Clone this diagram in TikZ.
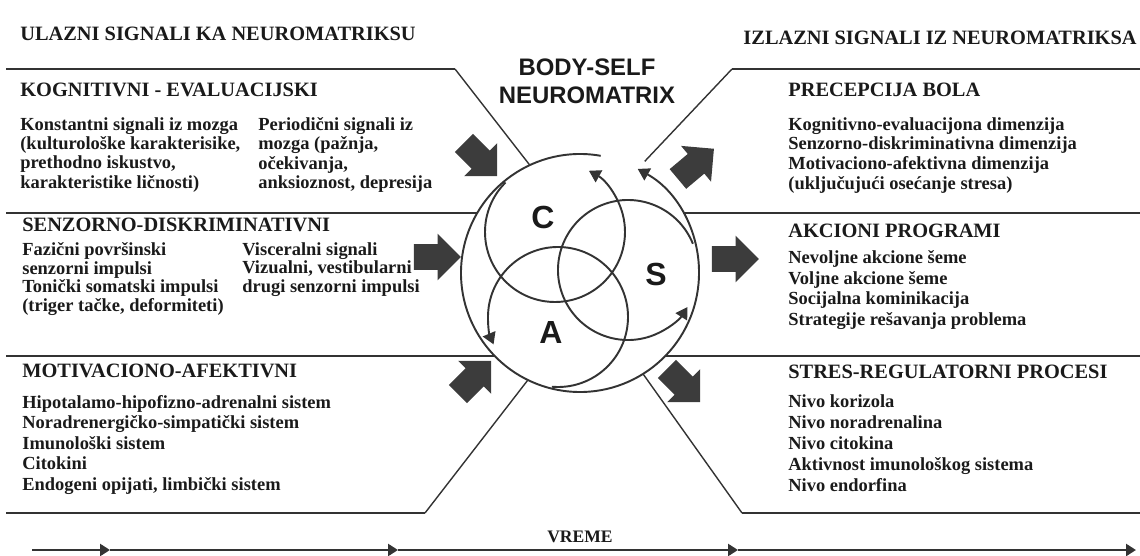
\documentclass[tikz,border=0pt]{standalone}
\usepackage{fontspec}
\setmainfont{Liberation Serif}
\newfontfamily\titlefont{Liberation Sans}
\usepackage{tikz}
\usetikzlibrary{arrows.meta,shapes.arrows,calc}
\definecolor{inkblack}{HTML}{1A1A1A}
\definecolor{linegray}{HTML}{333333}
\definecolor{arrowgray}{HTML}{3C3C3C}

\begin{document}
\begin{tikzpicture}[x=0.02cm, y=0.02cm,
    hd/.style={anchor=west, inner sep=0pt, text=inkblack,
               font=\bfseries\fontsize{11.6}{13}\selectfont},
    txt/.style={anchor=north west, inner sep=0pt, align=left, text=inkblack,
                font=\bfseries\fontsize{10.5}{#1}\selectfont},
    txt/.default=11.2,
    divider/.style={draw=linegray, line width=1.1pt},
    slant/.style={draw=linegray, line width=0.8pt},
    ring/.style={draw=linegray, line width=1.1pt, -{Triangle[length=2.3mm, width=2.7mm]}},
    blockarrow/.style={single arrow, fill=arrowgray, draw=none, inner xsep=0pt,
                       inner ysep=0.25cm, minimum height=0.94cm, single arrow head extend=0.21cm},
    letter/.style={text=inkblack, font=\titlefont\bfseries\fontsize{18.2}{20}\selectfont},
    timeline/.style={draw=linegray, line width=1.7pt, -{Triangle[length=2mm, width=2.4mm]}}
  ]
  \useasboundingbox (0,0) rectangle (1140,555);

  \node[circle, minimum size=4.76cm, inner sep=0pt] (nm) at (580,282) {};
  \coordinate (lft) at (6,0);
  \coordinate (rgt) at (1140,0);

  % dividers
  \draw[divider] (6,486) -- (455,486);
  \draw[slant] (455,486) -- (nm.115);
  \draw[divider] (nm.150 -| lft) -- (nm.150);
  \draw[divider] (nm.224 -| lft) -- (nm.224);
  \draw[divider] (6,42) -- (425,42);
  \draw[slant] (425,42) -- (nm.244);
  \draw[divider] (1140,486) -- (732,486);
  \draw[slant, shorten >=0.2cm] (732,486) -- (nm.61);
  \draw[divider] (nm.30) -- (nm.30 -| rgt);
  \draw[divider] (nm.316) -- (nm.316 -| rgt);
  \draw[slant] (nm.302) -- (742,42);
  \draw[divider] (742,42) -- (1140,42);

  % neuromatrix
  \coordinate (cC) at (555,323);
  \coordinate (cS) at (628,285);
  \coordinate (cA) at (558,238);
  \draw[ring] ([shift={(80:119)}]nm.center) arc[start angle=80, end angle=421, radius=119];
  \draw[ring] ([shift={(135:70)}]cC) arc[start angle=135, end angle=421, radius=70];
  \draw[ring] ([shift={(22:70)}]cS) arc[start angle=22, end angle=328, radius=70];
  \draw[ring] ([shift={(265:70)}]cA) arc[start angle=265, end angle=563, radius=70];
  \node[letter] (lC) at (543,338) {C};
  \node[letter] (lS) at (656,281) {S};
  \node[letter] (lA) at (551,222) {A};
  \node[align=center, text=inkblack, font=\titlefont\bfseries\fontsize{13.6}{16}\selectfont] (bsn) at (587,474) {BODY-SELF\\NEUROMATRIX};

  % block arrows
  \node[blockarrow, rotate=-45] (inK) at (476,400) {};
  \node[blockarrow] (inS) at (431,298) {};
  \node[blockarrow, rotate=45] (inM) at (470,173) {};
  \node[blockarrow, rotate=40] (outP) at (691,387) {};
  \node[blockarrow] (outA) at (729,296) {};
  \node[blockarrow, rotate=-45] (outR) at (679,174) {};

  % inputs
  \node[hd] (hin) at (20,521.5) {ULAZNI SIGNALI KA NEUROMATRIKSU};
  \node[hd] (hkog) at (20,465) {KOGNITIVNI - EVALUACIJSKI};
  \node[txt=11] (kog1) at (20,438) {Konstantni signali iz mozga\\(kulturološke karakterisike,\\prethodno iskustvo,\\karakteristike ličnosti)};
  \node[txt=11] (kog2) at (258,438) {Periodični signali iz\\mozga (pažnja,\\očekivanja,\\anksioznost, depresija};
  \node[hd] (hsen) at (22,330) {SENZORNO-DISKRIMINATIVNI};
  \node[txt=10.64] (sen1) at (22,313) {Fazični površinski\\senzorni impulsi\\Tonički somatski impulsi\\(triger tačke, deformiteti)};
  \node[txt=10.64] (sen2) at (242,313) {Visceralni signali\\Vizualni, vestibularni\\drugi senzorni impulsi};
  \node[hd] (hmot) at (22,184) {MOTIVACIONO-AFEKTIVNI};
  \node[txt=11.67] (mot) at (22,160) {Hipotalamo-hipofizno-adrenalni sistem\\Noradrenergičko-simpatički sistem\\Imunološki sistem\\Citokini\\Endogeni opijati, limbički sistem};

  % outputs
  \node[hd, anchor=east] (hout) at (1137,517) {IZLAZNI SIGNALI IZ NEUROMATRIKSA};
  \node[hd] (hpre) at (788,465) {PRECEPCIJA BOLA};
  \node[txt=11.2] (pre) at (788,438) {Kognitivno-evaluacijona dimenzija\\Senzorno-diskriminativna dimenzija\\Motivaciono-afektivna dimenzija\\(uključujući osećanje stresa)};
  \node[hd] (hakc) at (788,324) {AKCIONI PROGRAMI};
  \node[txt=11.78] (akc) at (788,305) {Nevoljne akcione šeme\\Voljne akcione šeme\\Socijalna kominikacija\\Strategije rešavanja problema};
  \node[hd] (hstr) at (788,183) {STRES-REGULATORNI PROCESI};
  \node[txt=11.95] (str) at (788,161) {Nivo korizola\\Nivo noradrenalina\\Nivo citokina\\Aktivnost imunološkog sistema\\Nivo endorfina};

  % time
  \coordinate (t0) at (32,5);
  \coordinate (t1) at (110,5);
  \coordinate (t2) at (398,5);
  \coordinate (t3) at (738,5);
  \coordinate (t4) at (1136,5);
  \draw[timeline] (t0) -- (t1);
  \draw[timeline] (t1) -- (t2);
  \draw[timeline] (t2) -- (t3);
  \draw[timeline] (t3) -- (t4);
  \node[text=inkblack, font=\bfseries\fontsize{10}{12}\selectfont] (vreme) at (580,18) {VREME};
\end{tikzpicture}
\end{document}
